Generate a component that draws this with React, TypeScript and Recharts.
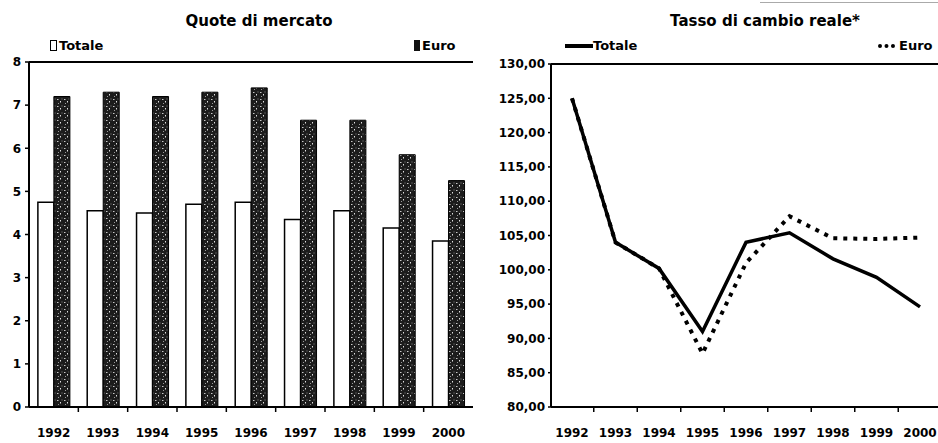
import {
  Bar,
  BarChart,
  Line,
  LineChart,
  ReferenceLine,
  XAxis,
  YAxis,
} from "recharts";

const years = ["1992", "1993", "1994", "1995", "1996", "1997", "1998", "1999", "2000"];
const quotaTotale = [4.75, 4.55, 4.5, 4.7, 4.75, 4.35, 4.55, 4.15, 3.85];
const quotaEuro = [7.2, 7.3, 7.2, 7.3, 7.4, 6.65, 6.65, 5.85, 5.25];
const cambioTotale = [125, 104, 100.2, 91, 104, 105.4, 101.6, 98.9, 94.6];
const cambioEuro = [125, 104, 100.2, 87.8, 101, 107.8, 104.6, 104.5, 104.7];
const quotaTicks = [0, 1, 2, 3, 4, 5, 6, 7, 8];
const cambioTicks = [80, 85, 90, 95, 100, 105, 110, 115, 120, 125, 130];

const quoteData = years.map((year, i) => ({ year, totale: quotaTotale[i], euro: quotaEuro[i] }));
const cambioData = years.map((year, i) => ({ year, totale: cambioTotale[i], euro: cambioEuro[i] }));

const FONT = "'DejaVu Sans', sans-serif";
const tickStyle = { fill: "#000", fontSize: 12, fontWeight: 700, fontFamily: FONT };

function YearTick(props: any) {
  const { x, y, payload, index, band } = props;
  return (
    <g>
      {index < years.length - 1 && (
        <line x1={x + band / 2} x2={x + band / 2} y1={y} y2={y + 5} stroke="#000" strokeWidth={1.5} />
      )}
      <text x={x} y={y + 30} textAnchor="middle" {...tickStyle}>
        {payload.value}
      </text>
    </g>
  );
}

const fmt = (v: number) => v.toFixed(2).replace(".", ",");

export default function App() {
  return (
    <div style={{ position: "absolute", left: 0, top: 0, width: 938, height: 443, background: "#fff", fontFamily: FONT, overflow: "hidden" }}>
      <div style={{ position: "absolute", left: 760, top: 2, width: 178, borderTop: "1px solid #aaa" }} />

      {/* titoli */}
      <div style={{ position: "absolute", left: 159, top: 12, width: 200, textAlign: "center", fontSize: 15, fontWeight: 700 }}>
        Quote di mercato
      </div>
      <div style={{ position: "absolute", left: 655, top: 12, width: 220, textAlign: "center", fontSize: 15, fontWeight: 700 }}>
        Tasso di cambio reale*
      </div>

      {/* legenda sinistra */}
      <div style={{ position: "absolute", left: 50, top: 38, fontSize: 13, fontWeight: 700, display: "flex", alignItems: "center" }}>
        <span style={{ display: "inline-block", width: 5, height: 9, border: "1.5px solid #000", marginRight: 2 }} />
        Totale
      </div>
      <div style={{ position: "absolute", left: 414, top: 38, fontSize: 13, fontWeight: 700, display: "flex", alignItems: "center" }}>
        <span style={{ display: "inline-block", width: 6, height: 11, background: "#111", marginRight: 2 }} />
        Euro
      </div>

      {/* legenda destra */}
      <div style={{ position: "absolute", left: 565, top: 38, fontSize: 13, fontWeight: 700, display: "flex", alignItems: "center" }}>
        <span style={{ display: "inline-block", width: 28, borderTop: "4px solid #000" }} />
        Totale
      </div>
      <div style={{ position: "absolute", left: 878, top: 38, fontSize: 13, fontWeight: 700, display: "flex", alignItems: "center", whiteSpace: "nowrap" }}>
        <span style={{ display: "inline-block", width: 17, borderTop: "4px dotted #000", marginRight: 4 }} />
        Euro
      </div>

      <div style={{ position: "absolute", left: 0, top: 0 }}>
        <BarChart
          width={475}
          height={443}
          data={quoteData}
          margin={{ top: 62, right: 2, bottom: 6, left: 0 }}
          barCategoryGap="18%"
          barGap={0}
        >
          <defs>
            <pattern id="speckle" width="7" height="7" patternUnits="userSpaceOnUse">
              <rect width="7" height="7" fill="#1c1c1c" />
              <rect x="1" y="1" width="1.5" height="1" fill="#c8c8c8" />
              <rect x="4" y="3" width="1" height="1.5" fill="#e0e0e0" />
              <rect x="2" y="5" width="1" height="1" fill="#999" />
              <rect x="5.5" y="0.5" width="1" height="1" fill="#888" />
            </pattern>
          </defs>
          <XAxis
            dataKey="year"
            height={30}
            axisLine={{ stroke: "#000", strokeWidth: 2 }}
            tickLine={false}
            tickSize={0}
            tickMargin={0}
            interval={0}
            tick={<YearTick band={444 / 9} />}
          />
          <YAxis
            domain={[0, 8]}
            ticks={quotaTicks}
            width={29}
            axisLine={{ stroke: "#000", strokeWidth: 2 }}
            tickLine={{ stroke: "#000", strokeWidth: 1.5 }}
            tickSize={4}
            tickMargin={4}
            tick={tickStyle}
            interval={0}
          />
          <YAxis
            yAxisId="r"
            orientation="right"
            domain={[0, 8]}
            width={0}
            tick={false}
            tickLine={false}
            axisLine={{ stroke: "#000", strokeWidth: 2 }}
          />
          <ReferenceLine y={8} stroke="#000" strokeWidth={2} />
          <Bar dataKey="totale" fill="#fff" stroke="#000" strokeWidth={1.5} isAnimationActive={false} />
          <Bar dataKey="euro" fill="url(#speckle)" stroke="#000" strokeWidth={1} isAnimationActive={false} />
        </BarChart>
      </div>

      <div style={{ position: "absolute", left: 475, top: 0 }}>
        <LineChart
          width={463}
          height={443}
          data={cambioData}
          margin={{ top: 64, right: 0, bottom: 6, left: 0 }}
        >
          <XAxis
            dataKey="year"
            height={30}
            padding={{ left: 21, right: 18 }}
            axisLine={{ stroke: "#000", strokeWidth: 2 }}
            tickLine={false}
            tickSize={0}
            tickMargin={0}
            interval={0}
            tick={<YearTick band={43.5} />}
          />
          <YAxis
            domain={[80, 130]}
            ticks={cambioTicks}
            width={76}
            axisLine={{ stroke: "#000", strokeWidth: 2 }}
            tickLine={{ stroke: "#000", strokeWidth: 1.5 }}
            tickSize={3}
            tickMargin={3}
            tick={tickStyle}
            tickFormatter={fmt}
            interval={0}
          />
          <ReferenceLine y={130} stroke="#000" strokeWidth={2} />
          <Line
            dataKey="euro"
            stroke="#000"
            strokeWidth={4}
            strokeDasharray="4 6"
            dot={false}
            isAnimationActive={false}
          />
          <Line
            dataKey="totale"
            stroke="#000"
            strokeWidth={3.5}
            dot={false}
            isAnimationActive={false}
          />
        </LineChart>
      </div>
    </div>
  );
}
